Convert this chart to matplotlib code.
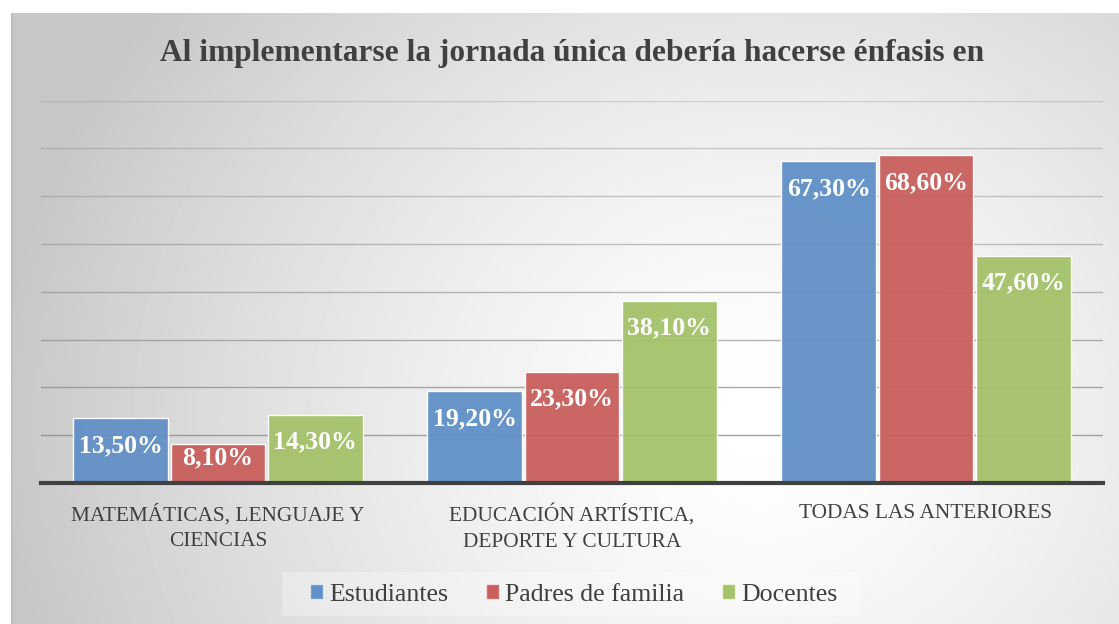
import numpy as np
import matplotlib.pyplot as plt
from matplotlib.patches import Patch, Rectangle

# datos del gráfico
categorias = ['MATEMÁTICAS, LENGUAJE Y\nCIENCIAS',
              'EDUCACIÓN ARTÍSTICA,\nDEPORTE Y CULTURA',
              'TODAS LAS ANTERIORES']
series = ['Estudiantes', 'Padres de familia', 'Docentes']
estudiantes = [13.5, 19.2, 67.3]
padres = [8.1, 23.3, 68.6]
docentes = [14.3, 38.1, 47.6]
colores = ['#6190c7', '#c85f5c', '#a4c26a']
titulo = 'Al implementarse la jornada única debería hacerse énfasis en'

W, H = 1119, 624
fig = plt.figure(figsize=(W / 100, H / 100), dpi=100)

# fondo con degradado radial (blanco al centro, gris en los bordes)
bg = fig.add_axes([11 / W, 0, 1 - 11 / W, 1 - 13 / H], zorder=-10)
yy, xx = np.mgrid[0:H - 13, 0:W - 11]
xx = xx + 11
yy = yy + 13
d = np.sqrt((xx - 760) ** 2 + ((yy - 420) / 0.9) ** 2)
val = 1 - 0.22 * np.clip(d / 760, 0, 1) ** 1.4
bg.imshow(val, cmap='gray', vmin=0, vmax=1, aspect='auto', interpolation='bilinear')
bg.axis('off')
# borde izquierdo un poco más oscuro
fig.patches.append(Rectangle((11 / W, 0), 1.5 / W, 1 - 13 / H, transform=fig.transFigure,
                             facecolor='#bdbdbd', edgecolor='none', zorder=-9))

ax = fig.add_axes([41 / W, (H - 483) / H, 1062 / W, (483 - 100.7) / H])
ax.patch.set_alpha(0)
ax.set_xlim(-0.5, 2.5)
ax.set_ylim(0, 80)
for s in ax.spines.values():
    s.set_visible(False)

# las líneas de cuadrícula se aclaran hacia arriba
for y in range(10, 81, 10):
    a = 0.8 - 0.07 * (y / 10 - 1)
    ax.axhline(y, color='#8a8a8a', alpha=a, lw=1, zorder=0)
ax.axhline(0, color='#404040', lw=3, clip_on=False, zorder=5)

x = np.arange(len(categorias))
ancho = 0.268
paso = 0.2745
for i, (vals, c) in enumerate(zip([estudiantes, padres, docentes], colores)):
    xs = x + (i - 1) * paso
    ax.bar(xs, vals, width=ancho, color=c, alpha=0.95, edgecolor=(1, 1, 1, 0.5), lw=1, zorder=2)
    for xi, v in zip(xs, vals):
        ax.text(xi, max(v - 5.7, 5.2), f'{v:.2f}%'.replace('.', ','),
                ha='center', va='center', color='white', fontsize=18.5,
                fontweight='bold', family='Liberation Serif', zorder=4)

ax.set_yticks([])
ax.set_xticks(x)
ax.set_xticklabels(categorias, fontsize=15.4, family='Liberation Serif',
                   color='#404040', linespacing=1.5)
ax.tick_params(axis='x', length=0, pad=15)

fig.text(572 / W, 1 - 53 / H, titulo, ha='center', va='center', fontsize=22.6,
         fontweight='bold', color='#404040', family='Liberation Serif')

# caja de la leyenda
fig.patches.append(Rectangle((282 / W, 1 - 616 / H), 578 / W, 44 / H, transform=fig.transFigure,
                             facecolor=(1, 1, 1, 0.3), edgecolor='none', zorder=-5))
handles = [Patch(facecolor=c, edgecolor=(1, 1, 1, 0.6)) for c in colores]
leg = fig.legend(handles, series, loc='center', bbox_to_anchor=(574 / W, 1 - 595 / H),
                 ncol=3, frameon=False,
                 prop={'family': 'Liberation Serif', 'size': 18.6},
                 handlelength=0.5, handleheight=0.5, handletextpad=0.25,
                 columnspacing=1.45, borderpad=0.4)
for t in leg.get_texts():
    t.set_color('#404040')

fig.savefig('out.png', dpi=100)
